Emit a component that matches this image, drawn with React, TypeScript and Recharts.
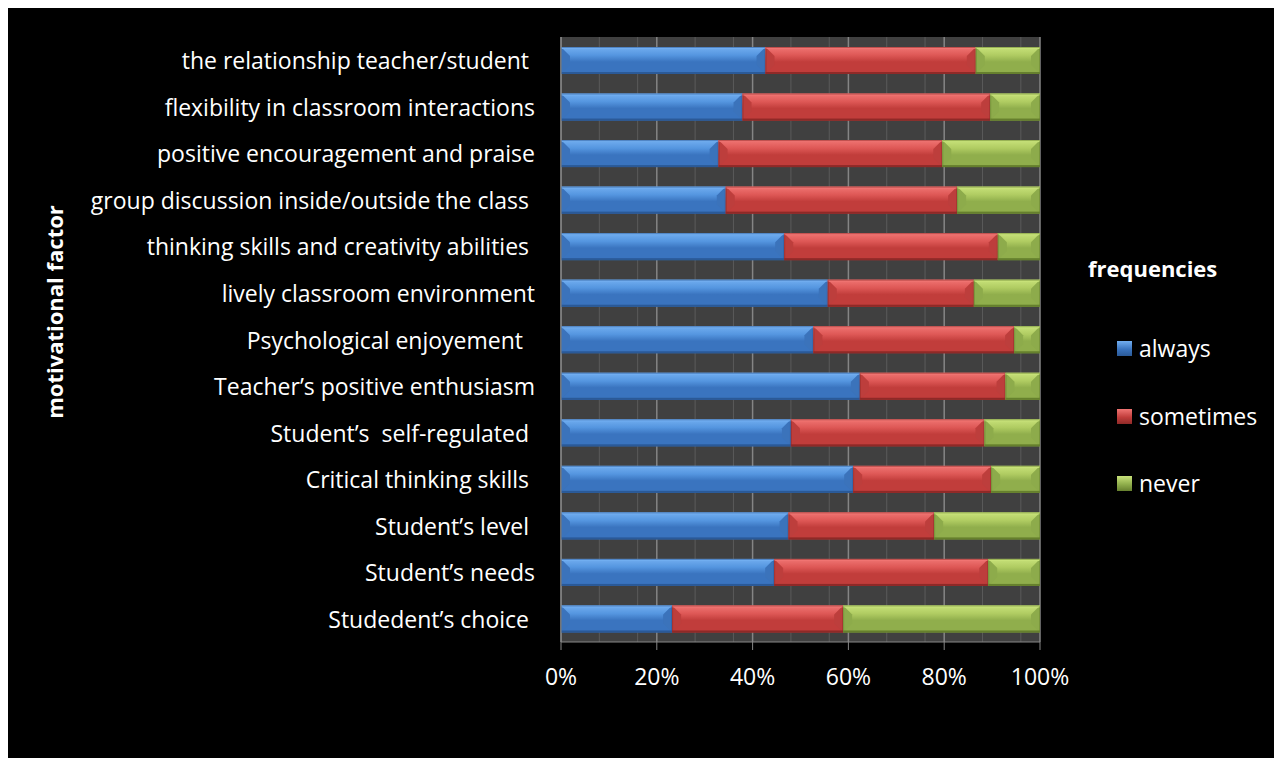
import React from 'react';
import { BarChart, Bar, XAxis, YAxis, CartesianGrid, Legend } from 'recharts';

const categories = [
  'the relationship teacher/student ',
  'flexibility in classroom interactions',
  'positive encouragement and praise',
  'group discussion inside/outside the class ',
  'thinking skills and creativity abilities ',
  'lively classroom environment',
  'Psychological enjoyement  ',
  'Teacher’s positive enthusiasm',
  'Student’s  self-regulated ',
  'Critical thinking skills ',
  'Student’s level ',
  'Student’s needs',
  'Studedent’s choice ',
];

const always = [42.7, 37.9, 32.9, 34.4, 46.6, 55.7, 52.7, 62.4, 48.0, 61.0, 47.5, 44.5, 23.2];
const sometimes = [43.9, 51.7, 46.7, 48.3, 44.6, 30.5, 41.9, 30.4, 40.4, 28.8, 30.4, 44.7, 35.7];
const never = [13.4, 10.4, 20.4, 17.3, 8.8, 13.8, 5.4, 7.2, 11.6, 10.2, 22.1, 10.8, 41.1];

const seriesNames = ['always', 'sometimes', 'never'];
const xTicks = [0, 0.2, 0.4, 0.6, 0.8, 1];
const minorTicks = [0.04, 0.08, 0.12, 0.16, 0.24, 0.28, 0.32, 0.36, 0.44, 0.48, 0.52, 0.56, 0.64, 0.68, 0.72, 0.76, 0.84, 0.88, 0.92, 0.96];

const data = categories.map((name, i) => ({
  name,
  always: always[i],
  sometimes: sometimes[i],
  never: never[i],
}));

const FONT = '"Open Sans", sans-serif';

// light edge, face top, face bottom, end facets, bottom edge
const palette: Record<string, { top: string; hi: string; base: string; side: string; bottom: string }> = {
  always: { top: '#72aef0', hi: '#5596e0', base: '#3a74bf', side: '#3b73bb', bottom: '#2b5a98' },
  sometimes: { top: '#f07573', hi: '#de5856', base: '#c13d3b', side: '#bd3e3c', bottom: '#8f2a28' },
  never: { top: '#c8e27a', hi: '#b0cc62', base: '#90ae4c', side: '#8dab4b', bottom: '#66802e' },
};

function makeBevel(key: string) {
  const c = palette[key];
  return (props: any) => {
    const { x, y, width, height } = props;
    if (!width || !height) return <g />;
    const b = Math.min(9, height / 3, width / 2);
    const x2 = x + width;
    const y2 = y + height;
    return (
      <g>
        <rect x={x} y={y} width={width} height={height} fill={`url(#grad-${key})`} />
        <polygon points={`${x},${y} ${x + b},${y + b} ${x + b},${y2 - b} ${x},${y2}`} fill={c.side} />
        <polygon points={`${x2},${y} ${x2 - b},${y + b} ${x2 - b},${y2 - b} ${x2},${y2}`} fill={c.side} />
        <rect x={x} y={y} width={width} height={2} fill={c.top} />
        <rect x={x} y={y2 - 2} width={width} height={2} fill={c.bottom} />
        <rect x={x + 0.5} y={y + 0.5} width={width - 1} height={height - 1} fill="none" stroke={c.bottom} strokeWidth={1} strokeOpacity={0.5} />
      </g>
    );
  };
}

const CategoryTick = (props: any) => {
  const { y, payload } = props;
  return (
    <text
      x={527}
      y={y}
      textAnchor="end"
      dominantBaseline="central"
      fill="#ffffff"
      fontSize={23}
      fontFamily={FONT}
      xmlSpace="preserve"
      style={{ whiteSpace: 'pre' }}
    >
      {payload.value}
    </text>
  );
};

const AxisTitle = () => (
  <text
    x={55}
    y={304}
    transform="rotate(-90, 55, 304)"
    textAnchor="middle"
    fill="#ffffff"
    fontSize={22}
    fontWeight="bold"
    fontFamily={FONT}
  >
    motivational factor
  </text>
);

const rowTops = [80, 148, 215];

const LegendBox = () => (
  <div style={{ position: 'relative', width: 190, height: 240, fontFamily: FONT, color: '#fff' }}>
    <div style={{ position: 'absolute', left: 0, top: 0, height: 24, lineHeight: '24px', fontSize: 22, fontWeight: 'bold', whiteSpace: 'nowrap' }}>
      frequencies
    </div>
    {seriesNames.map((s, i) => (
      <div key={s} style={{ position: 'absolute', left: 29, top: rowTops[i], height: 24, display: 'flex', alignItems: 'center' }}>
        <span
          style={{
            display: 'inline-block',
            width: 15,
            height: 15,
            background: `linear-gradient(${palette[s].top}, ${palette[s].base} 55%, ${palette[s].bottom})`,
            marginRight: 7,
          }}
        />
        <span style={{ fontSize: 23, lineHeight: '24px' }}>{s}</span>
      </div>
    ))}
  </div>
);

export default function App() {
  return (
    <div style={{ width: 1274, height: 750, background: '#000' }}>
      <BarChart
        width={1274}
        height={750}
        data={data}
        layout="vertical"
        stackOffset="expand"
        barSize={27}
        margin={{ top: 29, right: 242, bottom: 66, left: 0 }}
      >
        <defs>
          {seriesNames.map((s) => (
            <linearGradient key={s} id={`grad-${s}`} x1="0" y1="0" x2="0" y2="1">
              <stop offset="0%" stopColor={palette[s].top} />
              <stop offset="30%" stopColor={palette[s].hi} />
              <stop offset="55%" stopColor={palette[s].base} />
              <stop offset="100%" stopColor={palette[s].base} />
            </linearGradient>
          ))}
        </defs>
        <CartesianGrid horizontal={false} fill="#404040" stroke="#5a5a5a" verticalValues={minorTicks} />
        <CartesianGrid horizontal={false} stroke="#858585" strokeWidth={1.5} />
        <XAxis
          type="number"
          domain={[0, 1]}
          ticks={xTicks}
          tickFormatter={(v: number) => `${Math.round(v * 100)}%`}
          stroke="#868686"
          tick={{ fill: '#ffffff', fontSize: 23, fontFamily: FONT }}
          tickSize={8}
          tickMargin={19}
          height={50}
        />
        <YAxis
          type="category"
          dataKey="name"
          width={553}
          stroke="#868686"
          tickLine={false}
          tick={<CategoryTick />}
          interval={0}
          label={<AxisTitle />}
        />
        <Legend
          layout="vertical"
          align="center"
          verticalAlign="middle"
          content={<LegendBox />}
          wrapperStyle={{ left: 1080, top: 248, width: 190 }}
        />
        {seriesNames.map((s) => (
          <Bar key={s} dataKey={s} stackId="a" fill={palette[s].base} shape={makeBevel(s)} isAnimationActive={false} />
        ))}
      </BarChart>
    </div>
  );
}
